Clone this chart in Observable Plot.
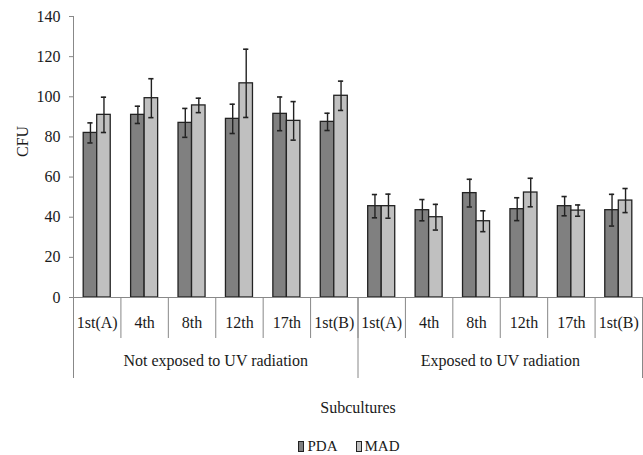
<!DOCTYPE html>
<html>
<head>
<meta charset="utf-8">
<script src="https://cdn.jsdelivr.net/npm/d3@7"></script>
<script src="https://cdn.jsdelivr.net/npm/@observablehq/plot@0.6"></script>
<style>
  html, body { margin: 0; padding: 0; background: #fff; }
  #chart { width: 643px; }
  #chart svg g[aria-label="y-axis tick"] path,
  #chart svg g[aria-label^="y-axis"] .tick line { stroke: #888; }
  .legend {
    display: flex; justify-content: center; align-items: center;
    padding-left: 55px; margin-top: 13px;
    font-family: "Liberation Serif", serif; font-size: 15px; color: #1a1a1a;
  }
  .legend .item { display: flex; align-items: center; margin: 0 9px; }
  .legend .sw { width: 4px; height: 9px; border: 1px solid #222; margin-right: 3px; }
</style>
</head>
<body>
<div id="chart"></div>
<script>
// Subculture labels and the two treatment groups
const categories = ["1st(A)", "4th", "8th", "12th", "17th", "1st(B)"];
const groups = ["Not exposed to UV radiation", "Exposed to UV radiation"];
const series = ["PDA", "MAD"];
const yTicks = [0, 20, 40, 60, 80, 100, 120, 140];

// Mean CFU and error per subculture (first six: not exposed, last six: exposed)
const pdaMean = [82, 91, 87, 89, 91.5, 87.5, 45.5, 43.5, 52, 44, 45.5, 43.5];
const pdaErr  = [5, 4.3, 7.2, 7.3, 8.4, 4.3, 5.8, 5.3, 6.9, 5.7, 4.8, 7.9];
const madMean = [91, 99.3, 95.7, 106.7, 88, 100.5, 45.5, 40, 38, 52.3, 43.3, 48.3];
const madErr  = [8.8, 9.7, 3.6, 17, 9.6, 7.3, 6, 6.4, 5.2, 7.1, 2.8, 6];

const colors = {PDA: "#808080", MAD: "#c0c0c0"};

// Each slot on the x axis is one subculture; the pair of bars sits in its middle
const barSpan = 0.285;
const capHalf = 0.055;
const rows = [];
pdaMean.forEach((v, i) => {
  rows.push({i, series: "PDA", value: v, err: pdaErr[i], x1: i + 0.5 - barSpan, x2: i + 0.5});
  rows.push({i, series: "MAD", value: madMean[i], err: madErr[i], x1: i + 0.5, x2: i + 0.5 + barSpan});
});
rows.forEach(d => { d.cx = (d.x1 + d.x2) / 2; });

const slots = pdaMean.map((_, i) => ({i, label: categories[i % categories.length]}));
const slotEdges = d3.range(pdaMean.length + 1);
const groupEdges = d3.range(groups.length + 1).map(g => g * categories.length);

const chart = Plot.plot({
  width: 643,
  height: 425,
  marginLeft: 73,
  marginRight: 1,
  marginTop: 16,
  marginBottom: 128,
  style: {fontFamily: "Liberation Serif, serif", fontSize: "16px", color: "#1a1a1a", background: "#fff"},
  x: {domain: [0, pdaMean.length], axis: null},
  y: {domain: [0, 140], ticks: yTicks, tickSize: 4, tickPadding: 9, label: null},
  marks: [
    Plot.rectY(rows, {x1: "x1", x2: "x2", y: "value", fill: d => colors[d.series], stroke: "#222", strokeWidth: 1.3}),
    // error bars with caps
    Plot.ruleX(rows, {x: "cx", y1: d => d.value - d.err, y2: d => d.value + d.err, stroke: "#222", strokeWidth: 1.4}),
    Plot.ruleY(rows, {y: d => d.value + d.err, x1: d => d.cx - capHalf, x2: d => d.cx + capHalf, stroke: "#222", strokeWidth: 1.6}),
    Plot.ruleY(rows, {y: d => d.value - d.err, x1: d => d.cx - capHalf, x2: d => d.cx + capHalf, stroke: "#222", strokeWidth: 1.6}),
    // axis lines
    Plot.ruleX([0], {stroke: "#888"}),
    Plot.ruleY([0], {stroke: "#888"}),
    // category table below the axis
    Plot.ruleX(slotEdges, {x: d => d, y1: () => 0, y2: () => 0, insetBottom: -41, stroke: "#888"}),
    Plot.ruleX(groupEdges, {x: d => d, y1: () => 0, y2: () => 0, insetBottom: -81, stroke: "#888"}),
    Plot.text(slots, {x: d => d.i + 0.5, y: () => 0, dy: 25, text: "label"}),
    Plot.text(groups, {x: (d, j) => (j + 0.5) * categories.length, y: () => 0, dy: 63, text: d => d}),
    Plot.text(["Subcultures"], {x: () => pdaMean.length / 2, y: () => 0, dy: 110, text: d => d}),
    Plot.text(["CFU"], {frameAnchor: "left", dx: -51, rotate: -90, text: d => d})
  ]
});
document.getElementById("chart").appendChild(chart);

const legend = document.createElement("div");
legend.className = "legend";
series.forEach(s => {
  const item = document.createElement("div");
  item.className = "item";
  const sw = document.createElement("span");
  sw.className = "sw";
  sw.style.background = colors[s];
  item.appendChild(sw);
  item.appendChild(document.createTextNode(s));
  legend.appendChild(item);
});
document.getElementById("chart").appendChild(legend);
</script>
</body>
</html>
